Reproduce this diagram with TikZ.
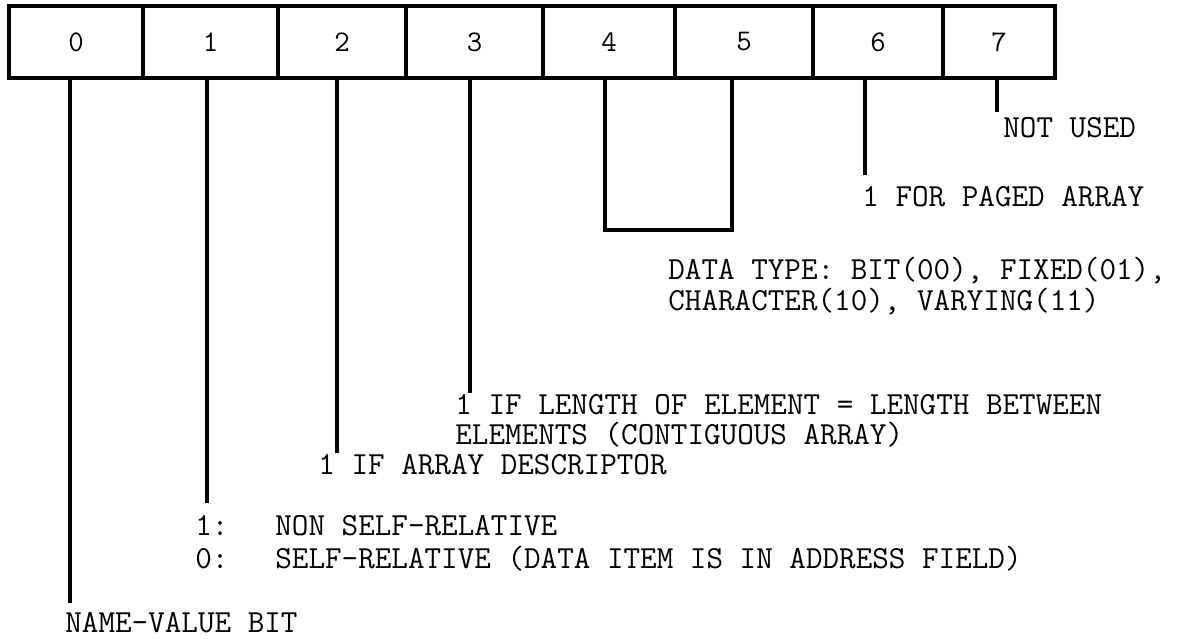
\documentclass[tikz,border=0pt]{standalone}
\usepackage{fontspec}
\newcommand\typewr{\ttfamily\addfontfeatures{FakeBold=1.2}}
\begin{document}
\begin{tikzpicture}[x=0.5pt,y=-0.5pt,
  cell/.style={draw,line width=1.8pt,minimum height=36pt,inner sep=0pt,font=\typewr\fontsize{15}{18}\selectfont},
  wire/.style={line width=1.8pt},
  lbl/.style={anchor=base west,inner sep=0pt,font=\typewr\fontsize{16.1}{19}\selectfont}]
  \useasboundingbox (0,0) rectangle (1188,638);
  \foreach \l/\r/\b in {9/143/0,143/278/1,278/406/2,406/543/3,543/675/4,675/813/5,813/943/6,943/1055/7}
    \node[cell,minimum width={(\r-\l)*0.5}] (c\b) at ({(\l+\r)/2},42) {\b};
  \coordinate (e0) at (70,603);
  \coordinate (e1) at (207,503);
  \coordinate (e2) at (337,453);
  \coordinate (e3) at (470,393);
  \coordinate (e4) at (605,230);
  \coordinate (e5) at (732,230);
  \coordinate (e6) at (865,175);
  \coordinate (e7) at (997,112);
  \foreach \b in {0,1,2,3,6,7}
    \draw[wire] (e\b |- c\b.south) -- (e\b);
  \draw[wire] (e4 |- c4.south) -- (e4) -- (e5) -- (e5 |- c5.south);
  \node[lbl] (nu) at (1003,137) {NOT USED};
  \node[lbl] (pg) at (862,206) {1 FOR PAGED ARRAY};
  \node[lbl] (dt) at (668,279) {DATA TYPE: BIT(00), FIXED(01),};
  \node[lbl] (dt2) at (668,310) {CHARACTER(10), VARYING(11)};
  \node[lbl] (ln) at (455,414) {1 IF LENGTH OF ELEMENT = LENGTH BETWEEN};
  \node[lbl] (ln2) at (455,444) {ELEMENTS (CONTIGUOUS ARRAY)};
  \node[lbl] (ad) at (318,474) {1 IF ARRAY DESCRIPTOR};
  \node[lbl] (nsr) at (195,535) {\makebox[40pt][l]{1:}NON SELF-RELATIVE};
  \node[lbl] (sr) at (195,568) {\makebox[40pt][l]{0:}SELF-RELATIVE (DATA ITEM IS IN ADDRESS FIELD)};
  \node[lbl] (nv) at (65,632) {NAME-VALUE BIT};
\end{tikzpicture}
\end{document}
